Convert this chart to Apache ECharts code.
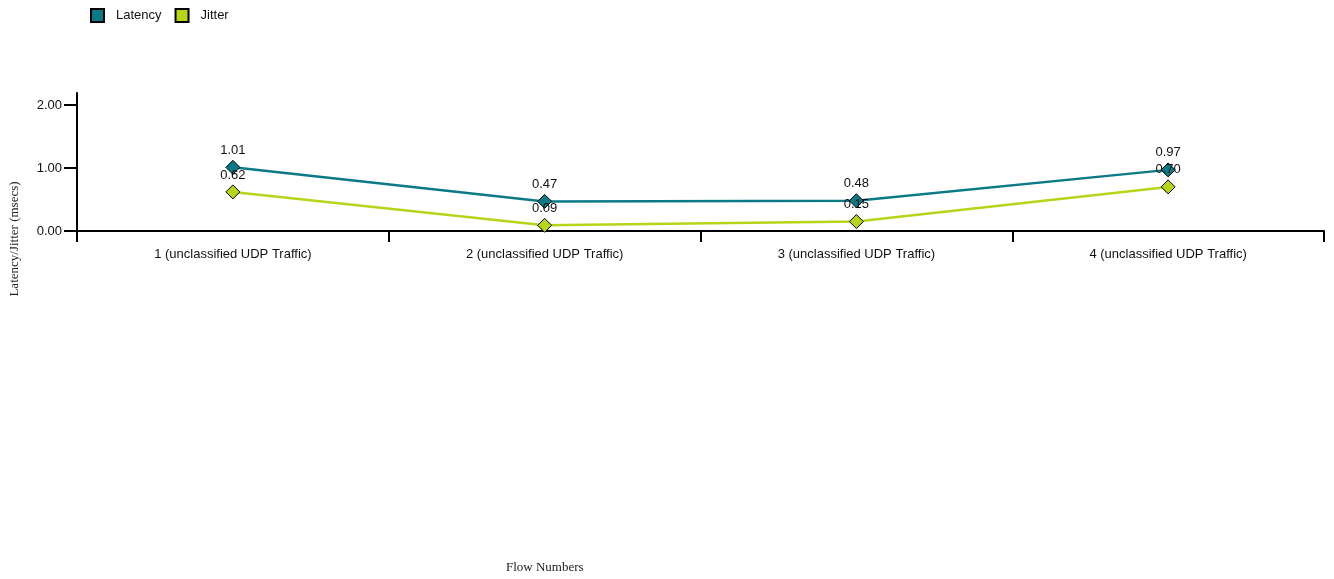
<!DOCTYPE html>
<html><head><meta charset="utf-8">
<script src="https://cdn.jsdelivr.net/npm/echarts@6/dist/echarts.min.js"></script>
<style>html,body{margin:0;padding:0;background:#fff}#c{width:1334px;height:579px}</style>
</head><body><div id="c"></div>
<script>
var categories = ['1 (unclassified UDP Traffic)', '2 (unclassified UDP Traffic)', '3 (unclassified UDP Traffic)', '4 (unclassified UDP Traffic)'];
var latency = [1.01, 0.47, 0.48, 0.97];
var jitter = [0.62, 0.09, 0.15, 0.70];
var yTicks = [0, 1, 2];

var chart = echarts.init(document.getElementById('c'));
var sans = '"Liberation Sans", Arial, sans-serif';
var serif = '"Liberation Serif", "Times New Roman", serif';
function mk(name, data, color) {
  return {
    name: name, type: 'line', data: data,
    symbol: 'diamond', symbolSize: 14,
    lineStyle: { color: color, width: 2.5 },
    itemStyle: { color: color, borderColor: '#000', borderWidth: 1 },
    label: { show: true, position: 'top', distance: 3, fontFamily: sans, fontSize: 13, color: '#111',
      formatter: function (p) { return p.value.toFixed(2); } },
    emphasis: { disabled: true },
    animation: false
  };
}
chart.setOption({
  animation: false,
  legend: {
    left: 85, top: 3, itemWidth: 13, itemHeight: 13, itemGap: 13, icon: 'rect',
    itemStyle: { borderColor: '#000', borderWidth: 2 },
    textStyle: { fontFamily: sans, fontSize: 13, color: '#111', padding: [0, 0, 0, 7] },
    data: ['Latency', 'Jitter']
  },
  grid: { left: 77, right: 10, top: 93, bottom: 348, containLabel: false },
  xAxis: {
    type: 'category', data: categories, boundaryGap: true,
    axisLine: { lineStyle: { color: '#000', width: 2 } },
    axisTick: { show: true, length: 11, lineStyle: { color: '#000', width: 2 } },
    axisLabel: { fontFamily: sans, fontSize: 13, color: '#111', margin: 17 },
    splitLine: { show: false }
  },
  yAxis: {
    type: 'value', min: 0, max: 2.19,
    axisLine: { show: true, lineStyle: { color: '#000', width: 2 } },
    axisTick: { show: true, length: 13, customValues: yTicks, lineStyle: { color: '#000', width: 2 } },
    axisLabel: { fontFamily: sans, fontSize: 13, color: '#111', margin: 15, customValues: yTicks,
      formatter: function (v) { return v.toFixed(2); } },
    splitLine: { show: false }
  },
  graphic: [
    { type: 'text', left: 506, top: 561, style: { text: 'Flow Numbers', font: '13px ' + serif, fill: '#222' } },
    { type: 'text', x: 15, y: 239, rotation: Math.PI / 2, style: { text: 'Latency/Jitter (msecs)', font: '13px ' + serif, fill: '#222', align: 'center', verticalAlign: 'middle' } }
  ],
  series: [mk('Latency', latency, '#0b7a87'), mk('Jitter', jitter, '#b8d418')]
});
</script></body></html>
